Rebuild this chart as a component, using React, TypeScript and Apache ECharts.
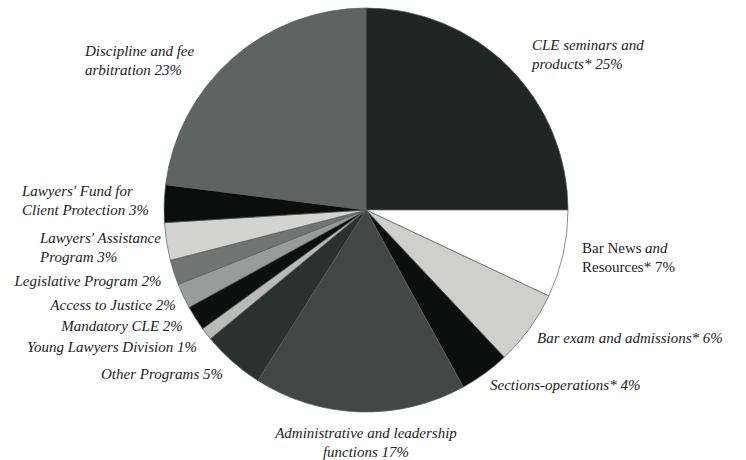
import React, { useEffect, useRef } from "react";
import * as echarts from "echarts";

const categories = [
  "CLE seminars and\nproducts*",
  "Bar News and\nResources*",
  "Bar exam and admissions*",
  "Sections-operations*",
  "Administrative and leadership\nfunctions",
  "Other Programs",
  "Young Lawyers Division",
  "Mandatory CLE",
  "Access to Justice",
  "Legislative Program",
  "Lawyers' Assistance\nProgram",
  "Lawyers' Fund for\nClient Protection",
  "Discipline and fee\narbitration",
];

const values = [25, 7, 6, 4, 17, 5, 1, 2, 2, 2, 3, 3, 23];

const colors = [
  "#1f2623",
  "#ffffff",
  "#cfd0cd",
  "#0d0f0e",
  "#414846",
  "#2a312e",
  "#b9bbb9",
  "#0e0f0f",
  "#9a9c9b",
  "#707574",
  "#d3d4d2",
  "#0c0d0d",
  "#5e6462",
];

// label anchor positions (x, y of first line centre, alignment)
const labelPos: [number, number, string][] = [
  [532, 45, "left"],
  [582, 248, "left"],
  [537, 338, "left"],
  [490, 385, "left"],
  [366, 433, "center"],
  [162, 374, "center"],
  [112, 347, "center"],
  [122, 326, "center"],
  [113, 305, "center"],
  [88, 281, "center"],
  [40, 238, "left"],
  [22, 191, "left"],
  [85, 51, "left"],
];

const ITALIC = "italic 15px Liberation Serif";
const UPRIGHT = "15px Liberation Serif";
const LINE_H = 19;

export default function App() {
  const ref = useRef<HTMLDivElement>(null);
  useEffect(() => {
    document.body.style.margin = "0";
    const chart = echarts.init(ref.current!, null, { renderer: "svg" });

    const graphics: any[] = [];
    categories.forEach((name, i) => {
      const lines = name.split("\n");
      lines[lines.length - 1] += " " + values[i] + "%";
      const [x, y, align] = labelPos[i];
      lines.forEach((ln, k) => {
        if (i === 1 && k === 0) {
          graphics.push({
            type: "text", x, y: y + k * LINE_H, silent: true,
            style: { text: "Bar News", font: UPRIGHT, fill: "#222", align: "left", verticalAlign: "middle" },
          });
          graphics.push({
            type: "text", x: x + 63, y: y + k * LINE_H, silent: true,
            style: { text: "and", font: ITALIC, fill: "#222", align: "left", verticalAlign: "middle" },
          });
          return;
        }
        graphics.push({
          type: "text",
          x,
          y: y + k * LINE_H,
          silent: true,
          style: {
            text: ln,
            font: i === 1 ? UPRIGHT : ITALIC,
            fill: "#222",
            align,
            verticalAlign: "middle",
          },
        });
      });
    });

    chart.setOption({
      animation: false,
      backgroundColor: "#ffffff",
      series: [
        {
          type: "pie",
          center: [366, 210],
          radius: 202,
          startAngle: 90,
          clockwise: true,
          data: categories.map((c, i) => ({
            name: c,
            value: values[i],
            itemStyle: { color: colors[i] },
          })),
          itemStyle: { borderColor: "#5a5a5a", borderWidth: 0.7 },
          label: { show: false },
          labelLine: { show: false },
        },
      ],
      graphic: graphics,
    });
    return () => chart.dispose();
  }, []);
  return <div ref={ref} style={{ width: 746, height: 460 }} />;
}
